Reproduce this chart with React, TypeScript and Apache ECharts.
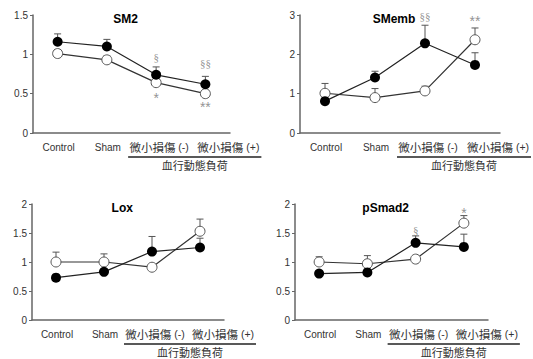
import React, { useEffect, useRef } from "react";
import * as echarts from "echarts";

const categories = ["Control", "Sham", "微小損傷 (-)", "微小損傷 (+)"];
const panelTitles = ["SM2", "SMemb", "Lox", "pSmad2"];
const yMax = [1.5, 3, 2, 2];
const yInterval = [0.5, 1, 0.5, 0.5];

// black (filled) series values and upward SEM
const sm2Black = [1.16, 1.1, 0.74, 0.62];
const sm2BlackErr = [0.1, 0.09, 0.1, 0.1];
const sm2White = [1.01, 0.93, 0.64, 0.5];
const sm2WhiteErr = [0.05, 0.05, 0.04, 0.04];

const smembBlack = [0.81, 1.41, 2.28, 1.73];
const smembBlackErr = [0.05, 0.16, 0.46, 0.31];
const smembWhite = [1.01, 0.9, 1.07, 2.37];
const smembWhiteErr = [0.25, 0.23, 0.12, 0.3];

const loxBlack = [0.73, 0.83, 1.18, 1.25];
const loxBlackErr = [0.04, 0.04, 0.26, 0.16];
const loxWhite = [1.0, 1.0, 0.91, 1.53];
const loxWhiteErr = [0.17, 0.14, 0.03, 0.21];

const psmadBlack = [0.8, 0.82, 1.33, 1.26];
const psmadBlackErr = [0.04, 0.04, 0.12, 0.22];
const psmadWhite = [1.0, 0.97, 1.05, 1.67];
const psmadWhiteErr = [0.09, 0.14, 0.04, 0.13];

// significance marks: [category index, y position, text]
const sm2Marks: [number, number, string][] = [
  [2, 0.97, "§"], [3, 0.89, "§§"], [2, 0.44, "*"], [3, 0.33, "**"],
];
const smembMarks: [number, number, string][] = [
  [2, 2.98, "§§"], [3, 2.84, "**"],
];
const loxMarks: [number, number, string][] = [];
const psmadMarks: [number, number, string][] = [
  [2, 1.56, "§"], [3, 1.84, "*"],
];

const blacks = [sm2Black, smembBlack, loxBlack, psmadBlack];
const blackErrs = [sm2BlackErr, smembBlackErr, loxBlackErr, psmadBlackErr];
const whites = [sm2White, smembWhite, loxWhite, psmadWhite];
const whiteErrs = [sm2WhiteErr, smembWhiteErr, loxWhiteErr, psmadWhiteErr];
const marks = [sm2Marks, smembMarks, loxMarks, psmadMarks];

const grids = [
  { left: 33, top: 15, width: 197, height: 118 },
  { left: 300, top: 15, width: 200, height: 118 },
  { left: 32, top: 204, width: 192, height: 116 },
  { left: 295, top: 204, width: 193, height: 116 },
];
const labelShift = [1, 1, 3, 23];

const LATIN = "'Liberation Sans', Arial, sans-serif";
const CJK = "'Noto Sans CJK JP', 'Liberation Sans', sans-serif";

function errRender(params: any, api: any) {
  const x = api.value(0);
  const y = api.value(1);
  const e = api.value(2);
  const p0 = api.coord([x, y]);
  const p1 = api.coord([x, y + e]);
  const st = { stroke: "#555", lineWidth: 1 };
  return {
    type: "group",
    children: [
      { type: "line", shape: { x1: p0[0], y1: p0[1], x2: p1[0], y2: p1[1] }, style: st },
      { type: "line", shape: { x1: p1[0] - 3.5, y1: p1[1], x2: p1[0] + 3.5, y2: p1[1] }, style: st },
    ],
  };
}

export default function App() {
  const ref = useRef<HTMLDivElement>(null);
  useEffect(() => {
    document.body.style.margin = "0";
    const chart = echarts.init(ref.current!, null, { renderer: "svg" });
    const xAxis: any[] = [];
    const yAxis: any[] = [];
    const series: any[] = [];
    grids.forEach((g, k) => {
      xAxis.push({
        type: "category",
        gridIndex: k,
        data: categories,
        boundaryGap: true,
        axisLine: { lineStyle: { color: "#666", width: 1.5 } },
        axisTick: { show: false },
        axisLabel: { show: false },
      });
      yAxis.push({
        type: "value",
        gridIndex: k,
        min: 0,
        max: yMax[k],
        interval: yInterval[k],
        axisLine: { show: true, lineStyle: { color: "#666", width: 1.5 } },
        axisTick: { show: true, length: 3, lineStyle: { color: "#666", width: 1 } },
        splitLine: { show: false },
        axisLabel: { color: "#333", fontSize: 10, fontFamily: LATIN, margin: 5 },
      });
      series.push({
        type: "custom",
        xAxisIndex: k,
        yAxisIndex: k,
        renderItem: errRender,
        data: whites[k].map((v, i) => [i, v, whiteErrs[k][i]]),
        z: 2,
      });
      series.push({
        type: "line",
        xAxisIndex: k,
        yAxisIndex: k,
        data: whites[k],
        symbol: "circle",
        symbolSize: 10,
        lineStyle: { color: "#333", width: 1.2 },
        itemStyle: { color: "#fff", borderColor: "#555", borderWidth: 1 },
        z: 3,
      });
      series.push({
        type: "custom",
        xAxisIndex: k,
        yAxisIndex: k,
        renderItem: errRender,
        data: blacks[k].map((v, i) => [i, v, blackErrs[k][i]]),
        z: 4,
      });
      series.push({
        type: "line",
        xAxisIndex: k,
        yAxisIndex: k,
        data: blacks[k],
        symbol: "circle",
        symbolSize: 10,
        lineStyle: { color: "#222", width: 1.2 },
        itemStyle: { color: "#000", borderColor: "#000", borderWidth: 0 },
        z: 5,
      });
      series.push({
        type: "scatter",
        xAxisIndex: k,
        yAxisIndex: k,
        symbolSize: 1,
        itemStyle: { color: "rgba(0,0,0,0)" },
        data: marks[k].map((m) => {
          const star = m[2].indexOf("*") >= 0;
          return {
            value: [m[0], m[1]],
            name: m[2],
            label: star
              ? { fontFamily: LATIN, fontSize: 14 }
              : { fontFamily: "'Liberation Serif', serif", fontSize: 11 },
          };
        }),
        label: {
          show: true,
          position: "inside",
          formatter: "{b}",
          color: "#777",
        },
        z: 6,
      });
    });
    chart.setOption({
      animation: false,
      grid: grids.map((g) => ({ ...g, containLabel: false })),
      xAxis,
      yAxis,
      series,
    });

    const graphic: any[] = [];
    grids.forEach((g, k) => {
      const yAxisPx = chart.convertToPixel({ yAxisIndex: k }, 0) as number;
      const xs = categories.map((c, i) => (chart.convertToPixel({ xAxisIndex: k }, c) as number) + labelShift[i]);
      categories.forEach((c, i) => {
        const isCjk = i >= 2;
        graphic.push({
          type: "text",
          x: xs[i],
          y: yAxisPx + 14,
          style: {
            text: isCjk ? `{c|${c.slice(0, 4)}}{l|${c.slice(4)}}` : c,
            rich: {
              c: { fontFamily: CJK, fontSize: 11.5, fill: "#333" },
              l: { fontFamily: LATIN, fontSize: 10.5, fill: "#333" },
            },
            fontFamily: LATIN,
            fontSize: 10,
            fill: "#333",
            align: "center",
            verticalAlign: "middle",
          },
        });
      });
      const x1 = xs[2] - 31;
      const x2 = xs[3] + 33;
      graphic.push({
        type: "line",
        shape: { x1, y1: yAxisPx + 24, x2, y2: yAxisPx + 24 },
        style: { stroke: "#222", lineWidth: 1.5 },
      });
      graphic.push({
        type: "text",
        x: (x1 + x2) / 2,
        y: yAxisPx + 31.5,
        style: {
          text: "血行動態負荷",
          fontFamily: CJK,
          fontSize: 11,
          lineHeight: 12,
          fill: "#333",
          align: "center",
          verticalAlign: "middle",
        },
      });
      graphic.push({
        type: "text",
        x: g.left + g.width * 0.47,
        y: g.top + 4,
        style: {
          text: panelTitles[k],
          fontFamily: LATIN,
          fontSize: 12,
          fontWeight: "bold",
          fill: "#000",
          align: "center",
          verticalAlign: "middle",
        },
      });
    });
    chart.setOption({ graphic });
    return () => chart.dispose();
  }, []);
  return <div ref={ref} style={{ width: 533, height: 359 }} />;
}
